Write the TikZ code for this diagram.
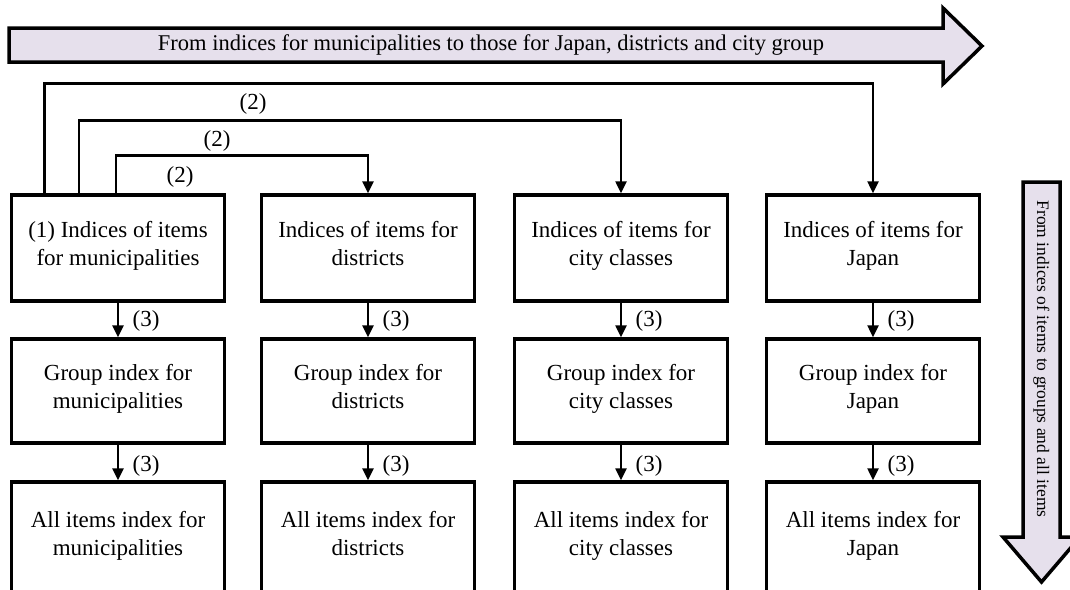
\documentclass[tikz,border=0pt]{standalone}
\usepackage{fontspec}
\setmainfont{Liberation Serif}
\usetikzlibrary{arrows.meta}
\definecolor{lav}{HTML}{E6E0EC}
\begin{document}
\begin{tikzpicture}[x=1pt,y=-1pt,
 box/.style={draw, line width=3.5pt, minimum width=213pt, align=center,
   font=\fontsize{23}{28}\selectfont, inner sep=0pt,
   execute at begin node=\strut, execute at end node=\strut},
 row1/.style={box, minimum height=106pt},
 row2/.style={box, minimum height=104pt},
 row3/.style={box, minimum height=112pt},
 conn/.style={line width=2.5pt, -{Triangle[length=12pt,width=11pt]}},
 lbl/.style={font=\fontsize{23}{28}\selectfont, inner sep=0pt},
 bigarrow/.style={draw, line width=3.5pt, fill=lav, line join=miter},
 arrowtext/.style={inner sep=0pt}]
\useasboundingbox (0,0) rectangle (1070,589);

% big arrows
\draw[bigarrow] (9,28) -- (943,28) -- (943,8) -- (982,46) -- (943,84) -- (943,62) -- (9,62) -- cycle;
\node[arrowtext, font=\fontsize{22.5}{26}\selectfont] (toptext) at (491,45)
  {From indices for municipalities to those for Japan, districts and city group};
\draw[bigarrow] (1023,182) -- (1060,182) -- (1060,537) -- (1080,537) -- (1041.5,582) -- (1003,537) -- (1023,537) -- cycle;
\node[arrowtext, rotate=-90, font=\fontsize{17.5}{21}\selectfont] (sidetext) at (1041.5,359)
  {From indices of items to groups and all items};

% row 1
\node[row1] (a1) at (118,248) {(1) Indices of items\\for municipalities};
\node[row1] (a2) at (368,248) {Indices of items for\\districts};
\node[row1] (a3) at (621,248) {Indices of items for\\city classes};
\node[row1] (a4) at (873,248) {Indices of items for\\Japan};
% row 2
\node[row2] (b1) at (118,391) {Group index for\\municipalities};
\node[row2] (b2) at (368,391) {Group index for\\districts};
\node[row2] (b3) at (621,391) {Group index for\\city classes};
\node[row2] (b4) at (873,391) {Group index for\\Japan};
% row 3
\node[row3] (c1) at (118,538) {All items index for\\municipalities};
\node[row3] (c2) at (368,538) {All items index for\\districts};
\node[row3] (c3) at (621,538) {All items index for\\city classes};
\node[row3] (c4) at (873,538) {All items index for\\Japan};

% (3) connectors
\foreach \i in {1,2,3,4}{
  \draw[conn] (a\i) -- (b\i) node[lbl, midway, xshift=28pt, yshift=-1pt] {(3)};
  \draw[conn] (b\i) -- (c\i) node[lbl, midway, xshift=28pt, yshift=-3pt] {(3)};
}

% (2) connectors
\draw[conn] ([xshift=34.5pt]a1.north west) -- ++(0,-110) -| (a4.north);
\draw[conn] ([xshift=69pt]a1.north west) -- ++(0,-73) -| (a3.north);
\draw[conn] ([xshift=106pt]a1.north west) -- ++(0,-38) -| (a2.north);
\node[lbl] (l2a) at (253,104) {(2)};
\node[lbl] (l2b) at (217,141) {(2)};
\node[lbl] (l2c) at (180,177) {(2)};
\end{tikzpicture}
\end{document}
